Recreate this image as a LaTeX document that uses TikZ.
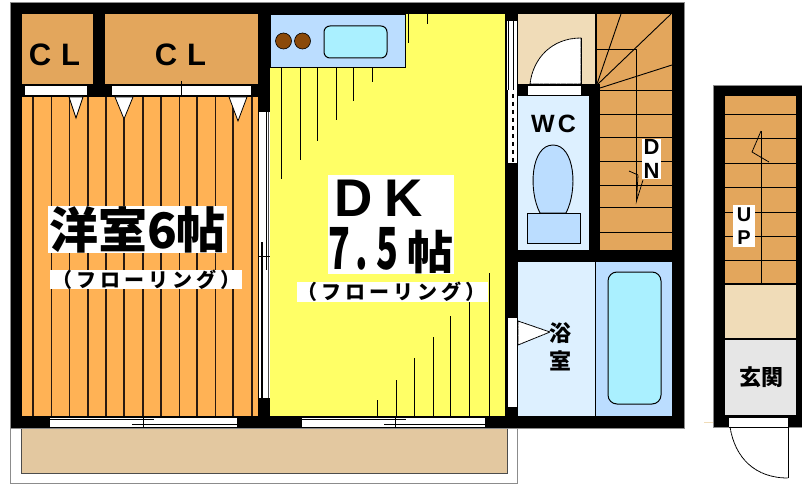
\documentclass[tikz,border=0pt]{standalone}
\usepackage{graphicx}
\usepackage{fontspec}
\setmainfont{Noto Sans CJK JP}
\newfontfamily\latinb{Liberation Sans}
\definecolor{wallgray}{HTML}{8C8C8C}
\definecolor{roomor}{HTML}{FFB255}
\definecolor{stairor}{HTML}{E3A65C}
\definecolor{dky}{HTML}{FFFF66}
\definecolor{kitblue}{HTML}{BBDDFF}
\definecolor{wcblue}{HTML}{DDF0FF}
\definecolor{tub}{HTML}{AAF0FF}
\definecolor{hall}{HTML}{F0DCB8}
\definecolor{balc}{HTML}{E3C8A0}
\definecolor{entry}{HTML}{E6E6E6}
\definecolor{burner}{HTML}{8B4A0A}
\definecolor{lineb}{HTML}{2A1A10}
\tikzset{
  x=1pt,y=-1pt,
  thin line/.style={draw=black,line width=0.9pt},
  floorline/.style={draw=lineb,line width=1.2pt},
  swing/.style={draw=black,line width=0.8pt,dash pattern=on 3pt off 0.4pt},
  label box/.style={fill=white,inner sep=0pt,text=black,align=center,font=\bfseries},
  plain text/.style={inner sep=0pt,text=black,align=center,font=\bfseries},
}
\begin{document}
\begin{tikzpicture}
\useasboundingbox (0,0) rectangle (802,484);
\fill[white] (0,0) rectangle (802,484);
% balcony
\draw[fill=white,draw=wallgray,line width=1pt] (10.5,426) rectangle (517.5,483);
\draw[fill=balc,draw=black!70,line width=1pt] (21,426) rectangle (507,473);
% main block
\draw[fill=black,draw=wallgray,line width=0.8pt] (10,2) rectangle (684,428);
% closets
\fill[stairor] (22,14) rectangle (93,84);
\fill[stairor] (105,14) rectangle (258,84);
\fill[white] (25,86) rectangle (87,95.5);
\fill[white] (112,86) rectangle (251,95.5);
\draw[thin line] (181,81) -- (181,96);
% western room
\fill[roomor] (22,97) rectangle (258,416);
\foreach \x in {33,51.5,69.5,88,106,124,143,161,179.5,197,215.5,233,252}
  \draw[floorline] (\x,97) -- (\x,416);
\foreach \a/\b/\c/\d in {69/83/76/118,115/133/124/119,229/247/238/121}
  \draw[fill=white,draw=black,line width=0.8pt] (\a,97) -- (\b,97) -- (\c,\d) -- cycle;
% sliding door room / DK
\fill[black] (258,14) rectangle (270,112);
\fill[white] (259,112) rectangle (269.5,398);
\draw[draw=black,line width=1.4pt] (262,242) -- (262,398);
\draw[draw=black,line width=1.1pt] (266.3,112) -- (266.3,270);
\draw[draw=black!70,line width=1pt] (268.8,112) -- (268.8,398);
\draw[draw=black,line width=1pt] (259,256) -- (270,256);
\fill[black] (258,398) rectangle (270,416);
% DK
\fill[dky] (270,14) rectangle (505,416);
\foreach \x/\y in {281/179,300/160,317/141,336/120,353/101,372/82}
  \draw[thin line] (\x,67) -- (\x,\y);
\draw[thin line] (408.5,14) -- (408.5,43);
\draw[thin line] (427.5,14) -- (427.5,24);
\foreach \x/\y in {377/400,396/380,414/358,433/337,450/316,469/295,489/273}
  \draw[thin line] (\x,\y) -- (\x,416);
% kitchen
\draw[fill=kitblue,draw=black,line width=0.9pt] (270,14) rectangle (405.5,67);
\draw[fill=burner,draw=black,line width=0.6pt] (283.5,41) circle (8);
\draw[fill=burner,draw=black,line width=0.6pt] (302.5,41) circle (8);
\draw[fill=tub,draw=black,line width=1pt,rounded corners=6pt] (324,26) rectangle (387,58);
% windows
\foreach \a/\m/\b in {50/143/237,302/395/485}{
  \fill[white] (\a,418) rectangle (\b,428);
  \draw[thin line] (\a,419) -- (\m+11,419);
  \draw[thin line] (\m-11,424.5) -- (\b,424.5);
  \draw[thin line] (\a,427.5) -- (\b,427.5);
  \draw[thin line] (\m,417) -- (\m,428);
}
% wall door DK / hall
\fill[white] (507,21) rectangle (517,163);
\draw[thin line] (508,21) -- (508,90);
\fill[black] (505,90) rectangle (508,163);
\draw[draw=black,line width=1pt] (513,21) -- (513,90);
\draw[draw=black,line width=1.6pt,dash pattern=on 4pt off 4pt] (513,94) -- (513,163);
% hall
\fill[hall] (518,14) rectangle (595,84);
\fill[white] (528,86) rectangle (581,95);
\draw[fill=white,swing] (530,84) .. controls (533,58) and (552,38) .. (581,38) -- (581,84) -- cycle;
\draw[thin line] (581,38) -- (581,84);
% WC
\fill[wcblue] (518,96) rectangle (589,250);
\draw[thin line] (528,95.5) -- (581,95.5);
\draw[fill=kitblue,draw=black,line width=0.9pt] (540,213) .. controls (528,190) and (531,145) .. (553,145) .. controls (575,145) and (578,190) .. (566,213) -- cycle;
\draw[fill=kitblue,draw=black,line width=0.9pt] (527.5,213) rectangle (580,243);
% stairs down
\fill[stairor] (596,14) rectangle (672,84);
\fill[stairor] (600,84) rectangle (672,250);
\foreach \y in {90.5,114.5,137.5,161.5,185,207,232}
  \draw[thin line] (600,\y) -- (672,\y);
\draw[thin line] (596,14) -- (596,84);
\draw[thin line] (596,49) -- (636.5,49);
\draw[thin line] (636.5,49) -- (636.5,201);
\draw[thin line] (597,84) -- (621,14);
\draw[thin line] (598,84) -- (671,14);
\draw[thin line] (600,88) -- (672,65);
\draw[swing] (629,171) -- (638,175) -- (636.5,201) -- (643,180);
% bath
\fill[wcblue] (518,262) rectangle (595,416);
\fill[kitblue] (596,262) rectangle (672,416);
\draw[thin line] (595.5,262) -- (595.5,416);
\draw[fill=tub,draw=black,line width=1pt,rounded corners=9pt] (608,272) rectangle (661,404);
\fill[white] (507.5,318) rectangle (517,407);
\draw[fill=white,swing] (518,321) -- (550,332) -- (518,345) -- cycle;
% right-hand block
\draw[fill=black,draw=wallgray,line width=0.8pt] (713.5,85) rectangle (810,427);
\fill[stairor] (725,96) rectangle (796,283);
\foreach \y in {114,138,163,187,212,236,260}
  \draw[thin line] (725,\y) -- (796,\y);
\draw[thin line] (761,131) -- (761,283);
\draw[swing] (761,131) -- (752,152) -- (769,162);
\fill[hall] (725,285) rectangle (796,338);
\fill[entry] (725,340) rectangle (796,415);
\fill[white] (729,417) rectangle (788,427);
\draw[thin line] (729,427.5) -- (788,427.5);
\draw[thin line] (729,417) -- (788,417);
\draw[swing] (730,427) .. controls (735,458) and (755,478) .. (788,478);
\draw[thin line] (788,417) -- (788,478);
\draw[draw=hall,line width=1pt] (704,422) -- (713,422);
% labels
\node[plain text,font=\latinb\bfseries\fontsize{31}{31}\selectfont] (cla) at (54.5,55) {C\hspace{10pt}L};
\node[plain text,font=\latinb\bfseries\fontsize{31}{31}\selectfont] (clb) at (180.5,55) {C\hspace{10pt}L};
\fill[white] (48,206) rectangle (227,253);
\node[plain text,font=\bfseries\fontsize{49}{49}\selectfont] (yo) at (137.5,230) {洋室6帖};
\fill[white] (50,270) rectangle (242,289);
\node[plain text,font=\bfseries\fontsize{20}{20}\selectfont] (fl1) at (146,279.5) {\addfontfeature{LetterSpace=20}（フローリング）};
\fill[white] (328,175) rectangle (454,274);
\node[plain text,font=\latinb\bfseries\fontsize{53}{53}\selectfont] (dk) at (378.5,198.5) {D\hspace{12pt}K};
\node[plain text,font=\bfseries\fontsize{46}{46}\selectfont] (tsubo) at (391,250.5) {\scalebox{0.78}[1.26]{7}\hspace{5pt}\scalebox{0.78}[1.26]{.}\hspace{9pt}\scalebox{0.78}[1.26]{5}\hspace{9pt}帖};
\fill[white] (297,282) rectangle (488,302);
\node[plain text,font=\bfseries\fontsize{20}{20}\selectfont] (fl2) at (391,292) {\addfontfeature{LetterSpace=20}（フローリング）};
\node[plain text,font=\latinb\bfseries\fontsize{25}{25}\selectfont] (wc) at (553.5,124) {W\hspace{3pt}C};
\node[label box,font=\latinb\bfseries\fontsize{22}{24}\selectfont,minimum width=19pt,minimum height=40pt] (dn) at (651.5,159) {D\\N};
\node[label box,font=\latinb\bfseries\fontsize{20}{23}\selectfont,minimum width=22pt,minimum height=42pt] (up) at (744,226) {U\\P};
\node[plain text,font=\bfseries\fontsize{22}{22}\selectfont] (yoku) at (560,333) {浴};
\node[plain text,font=\bfseries\fontsize{22}{22}\selectfont] (shitsu) at (560,361) {室};
\node[plain text,font=\bfseries\fontsize{22}{22}\selectfont] (genkan) at (761,377) {玄関};
\end{tikzpicture}
\end{document}
